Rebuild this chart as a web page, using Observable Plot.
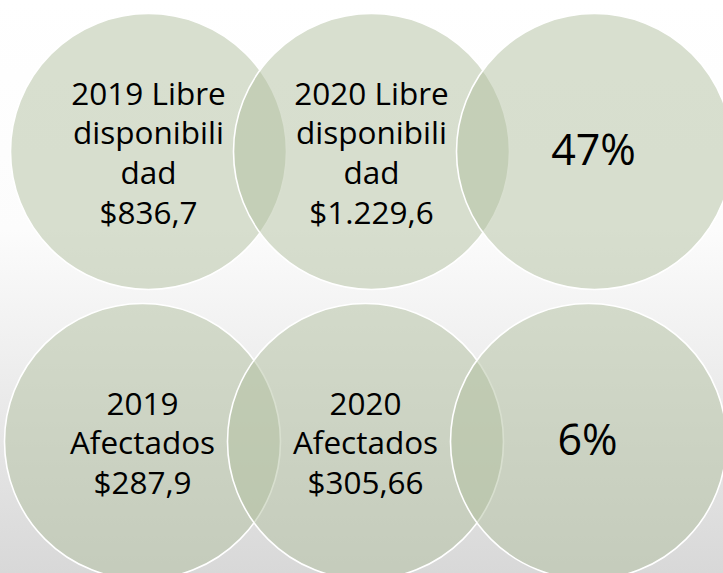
<!DOCTYPE html>
<html>
<head>
<meta charset="utf-8">
<script src="https://cdn.jsdelivr.net/npm/d3@7"></script>
<script src="https://cdn.jsdelivr.net/npm/@observablehq/plot@0.6"></script>
<style>
  html, body { margin: 0; padding: 0; background: #ffffff; }
  #chart svg { display: block; }
</style>
</head>
<body>
<div id="chart"></div>
<script>
// Data
const columns = [0, 1, 2];
const rowNames = ["Libre disponibilidad", "Afectados"];
const topLabels = ["2019 Libre\ndisponibili\ndad\n$836,7", "2020 Libre\ndisponibili\ndad\n$1.229,6", "47%"];
const bottomLabels = ["2019\nAfectados\n$287,9", "2020\nAfectados\n$305,66", "6%"];
const isPercent = [false, false, true];

const topRow = columns.map(c => ({col: c, row: 0, label: topLabels[c], pct: isPercent[c]}));
const bottomRow = columns.map(c => ({col: c, row: 1, label: bottomLabels[c], pct: isPercent[c]}));

const fillColor = "rgb(178,192,160)";
const font = "'Open Sans', sans-serif";

function rowMarks(data, dx) {
  return [
    Plot.dot(data, {x: "col", y: "row", r: 138, fill: fillColor, fillOpacity: 0.5, stroke: "white", strokeWidth: 1.6, dx}),
    Plot.text(data.filter(d => !d.pct), {x: "col", y: "row", text: "label", dx, fontSize: 31.5, lineHeight: 1.26, fontFamily: font, fill: "black"}),
    Plot.text(data.filter(d => d.pct), {x: "col", y: "row", text: "label", dx: dx - 1, dy: 0, fontSize: 43, fontFamily: font, fill: "black"})
  ];
}

const chart = Plot.plot({
  width: 723,
  height: 573,
  margin: 0,
  x: {domain: [0, 2], range: [148, 594], axis: null},
  y: {domain: [0, 1], range: [151, 441], axis: null},
  style: {background: "linear-gradient(to bottom, #ffffff 0%, #fcfcfc 40%, #d8d8d8 100%)"},
  marks: [
    ...rowMarks(topRow, 0),
    ...rowMarks(bottomRow, -6)
  ]
});
document.getElementById("chart").appendChild(chart);
</script>
</body>
</html>
